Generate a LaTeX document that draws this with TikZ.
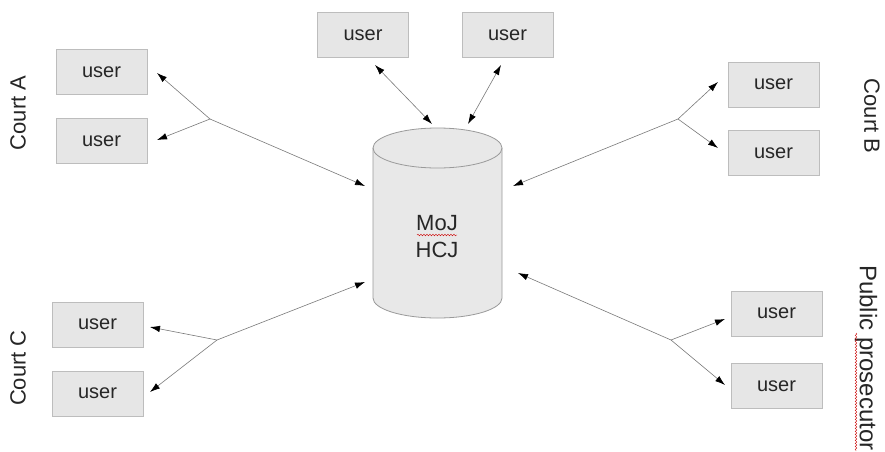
\documentclass[tikz,border=0pt]{standalone}
\usepackage{fontspec}
\setmainfont{Liberation Sans}
\usetikzlibrary{arrows.meta,decorations.pathmorphing}
\definecolor{boxfill}{HTML}{E6E6E6}
\definecolor{boxline}{HTML}{BDBDBD}
\definecolor{cylfill}{HTML}{E8E8E8}
\definecolor{cylline}{HTML}{9A9A9A}
\definecolor{linkcol}{HTML}{7A7A7A}
\definecolor{txt}{HTML}{262626}
\tikzset{
  userbox/.style={draw=boxline, fill=boxfill, line width=0.8pt, minimum width=91pt, minimum height=45pt, inner sep=0pt, font=\fontsize{20}{24}\selectfont, text=txt},
  grouplabel/.style={font=\fontsize{22}{26}\selectfont, text=txt, inner sep=0pt},
  link/.style={draw=linkcol, line width=0.6pt},
  tip/.tip={Latex[length=10pt,width=6.5pt,color=black]},
  oneway/.style={link, -tip},
  twoway/.style={link, tip-tip},
  squiggle/.style={draw=red!80!black, line width=0.4pt, decorate, decoration={snake, amplitude=0.8pt, segment length=3pt}}
}
\begin{document}
\begin{tikzpicture}[x=1pt,y=1pt]
\useasboundingbox (0,0) rectangle (885,451);
\fill[white] (0,0) rectangle (885,451);

% database cylinder
\filldraw[fill=cylfill, draw=cylline, line width=0.8pt]
  (373,303) -- (373,153) arc[start angle=180, end angle=360, x radius=64.5, y radius=20]
  -- (502,303) arc[start angle=0, end angle=180, x radius=64.5, y radius=20] -- cycle;
\draw[cylline, line width=0.8pt] (373,303) arc[start angle=180, end angle=360, x radius=64.5, y radius=20];
\node[font=\fontsize{22}{26}\selectfont, text=txt, align=center, inner sep=0pt] (db) at (437,214) {MoJ\\[1pt]HCJ};
\draw[squiggle] (417,216) -- (457,216);

% users
\node[userbox] (a1) at (101.5,379) {user};
\node[userbox] (a2) at (101.5,310) {user};
\node[userbox] (t1) at (363,416) {user};
\node[userbox] (t2) at (507.5,416) {user};
\node[userbox] (b1) at (773.5,366.5) {user};
\node[userbox] (b2) at (773.5,298) {user};
\node[userbox] (c1) at (97.5,126.5) {user};
\node[userbox] (c2) at (97.5,57.5) {user};
\node[userbox] (p1) at (776.5,137.5) {user};
\node[userbox] (p2) at (776.5,65) {user};

% group labels
\node[grouplabel, rotate=90] (la) at (18,338) {Court A};
\node[grouplabel, rotate=-90] (lb) at (872,335) {Court B};
\node[grouplabel, rotate=90] (lc) at (18,83) {Court C};
\node[grouplabel, font=\fontsize{24}{28}\selectfont, rotate=-90, anchor=west] (lp) at (866,186) {Public prosecutor};
\draw[squiggle] (856,118) -- (856,0);

% connector points
\coordinate (ja) at (210,332);
\coordinate (ea1) at (157,378);
\coordinate (ea2) at (157,311);
\coordinate (da) at (365,265);
\coordinate (et1) at (375,386);
\coordinate (dt1) at (432,327);
\coordinate (et2) at (501,386);
\coordinate (dt2) at (468,327);
\coordinate (jb) at (678,332);
\coordinate (eb1) at (718,369);
\coordinate (eb2) at (718,303);
\coordinate (db2) at (513,265);
\coordinate (jc) at (217,111);
\coordinate (ec1) at (150,124);
\coordinate (ec2) at (150,59);
\coordinate (dc) at (365,169);
\coordinate (jp) at (671,111);
\coordinate (ep1) at (725,132);
\coordinate (ep2) at (725,66);
\coordinate (dp) at (518,178);

% connectors
\draw[oneway] (ja) -- (ea1);
\draw[oneway] (ja) -- (ea2);
\draw[oneway] (ja) -- (da);
\draw[twoway] (et1) -- (dt1);
\draw[twoway] (et2) -- (dt2);
\draw[oneway] (jb) -- (eb1);
\draw[oneway] (jb) -- (eb2);
\draw[oneway] (jb) -- (db2);
\draw[oneway] (jc) -- (ec1);
\draw[oneway] (jc) -- (ec2);
\draw[oneway] (jc) -- (dc);
\draw[oneway] (jp) -- (ep1);
\draw[oneway] (jp) -- (ep2);
\draw[oneway] (jp) -- (dp);
\end{tikzpicture}
\end{document}
